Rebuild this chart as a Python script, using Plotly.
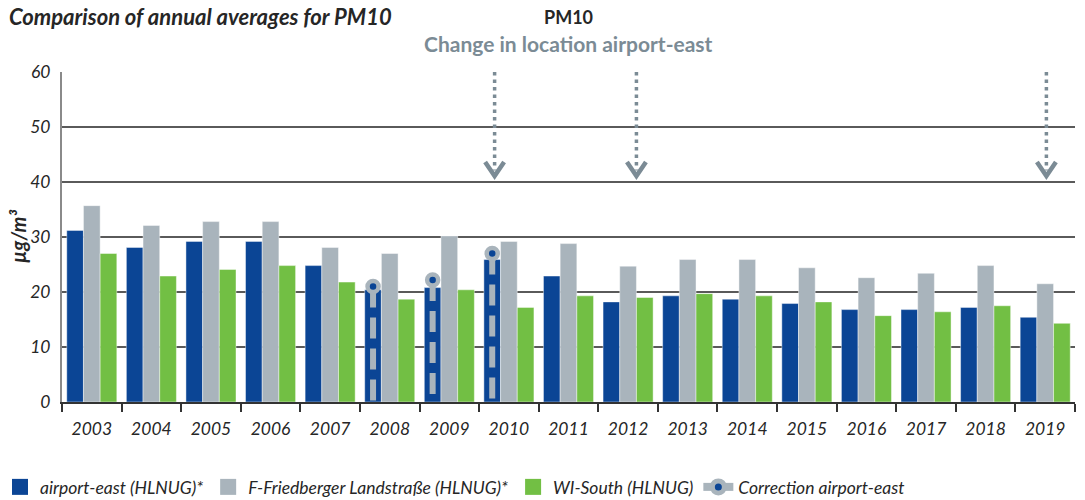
import plotly.graph_objects as go

# ---------------- data ----------------
years = ["2003", "2004", "2005", "2006", "2007", "2008", "2009", "2010", "2011",
         "2012", "2013", "2014", "2015", "2016", "2017", "2018", "2019"]
airport_east = [31.2, 28.1, 29.2, 29.2, 24.8, 20.4, 20.8, 25.9, 22.9,
                18.2, 19.3, 18.7, 17.9, 16.8, 16.8, 17.2, 15.4]
friedberger = [35.7, 32.1, 32.8, 32.8, 28.1, 27.0, 30.2, 29.2, 28.8,
               24.7, 25.9, 25.9, 24.4, 22.6, 23.4, 24.8, 21.5]
wi_south = [27.0, 22.9, 24.1, 24.8, 21.8, 18.7, 20.4, 17.2, 19.3,
            19.0, 19.7, 19.3, 18.2, 15.7, 16.4, 17.5, 14.3]
correction_years = ["2008", "2009", "2010"]
correction_values = [21.0, 22.2, 27.0]
arrow_years = ["2010", "2012", "2019"]
arrow_offsets = [-0.24, 0.14, 0.02]
y_ticks = [0, 10, 20, 30, 40, 50, 60]

series_names = ["airport-east (HLNUG)*", "F-Friedberger Landstraße (HLNUG)*", "WI-South (HLNUG)"]
correction_name = "Correction airport-east"
title_text = "Comparison of annual averages for PM10"
chart_title = "PM10"
chart_subtitle = "Change in location airport-east"
y_label = "µg/m³"

# ---------------- style ----------------
BLUE = "#0b4595"
GRAY = "#a9b4bc"
GREEN = "#72bf44"
SLATE = "#7b8b95"
TEXT = "#262626"
FONT = "Lato"
BARGAP = 0.16

W, H = 1085, 500
ML, MR, MT, MB = 62, 10, 72, 98
PW = W - ML - MR
PH = H - MT - MB
Y_MAX = 60

xpos = list(range(len(years)))
bar_w = (1 - BARGAP) / 3

fig = go.Figure()

for name, vals, col in zip(series_names, [airport_east, friedberger, wi_south], [BLUE, GRAY, GREEN]):
    fig.add_trace(go.Bar(
        x=xpos, y=vals, name=name, marker_color=col,
        marker_line=dict(width=0.8, color="rgba(255,255,255,0.55)"),
        showlegend=False, hoverinfo="y"))

# correction markings inside airport-east bars
for cy, cv in zip(correction_years, correction_values):
    xc = years.index(cy) - bar_w
    fig.add_trace(go.Scatter(
        x=[xc, xc], y=[cv, 0], mode="lines",
        line=dict(color=GRAY, width=6, dash="21px,10px"),
        showlegend=False, hoverinfo="skip"))
fig.add_trace(go.Scatter(
    x=[years.index(cy) - bar_w for cy in correction_years], y=correction_values,
    mode="markers",
    marker=dict(size=11, color=BLUE, line=dict(width=4.5, color=GRAY)),
    showlegend=False, hoverinfo="y"))

# arrows (dotted shaft + chevron head)
px_per_unit = PH / Y_MAX
px_per_cat = PW / len(years)
tip_val = (H - MB - 176) / px_per_unit
head_h = 14 / px_per_unit
head_dx = 9.5 / px_per_cat
for ay, off in zip(arrow_years, arrow_offsets):
    xa = years.index(ay) + off
    fig.add_shape(type="line", xref="x", yref="y", x0=xa, x1=xa, y0=Y_MAX,
                  y1=tip_val + 1.0, line=dict(color=SLATE, width=3.5, dash="3.5px,4px"))
    fig.add_trace(go.Scatter(
        x=[xa - head_dx, xa, xa + head_dx], y=[tip_val + head_h, tip_val, tip_val + head_h],
        mode="lines", line=dict(color=SLATE, width=4.5),
        showlegend=False, hoverinfo="skip"))

# legend entries
for name, col in zip(series_names, [BLUE, GRAY, GREEN]):
    fig.add_trace(go.Scatter(
        x=[None], y=[None], mode="markers", name=name,
        marker=dict(symbol="square", size=16, color=col)))
fig.add_trace(go.Scatter(
    x=[None], y=[None], mode="lines+markers", name=correction_name,
    line=dict(color=GRAY, width=8),
    marker=dict(size=12, color=BLUE, line=dict(width=5, color=GRAY))))

def px_x(p):
    return (p - ML) / PW

def px_y(p):
    return 1 + (MT - p) / PH

annotations = [
    dict(text=f"<b><i>{title_text}</i></b>", x=px_x(7), y=px_y(1), xref="paper", yref="paper",
         xanchor="left", yanchor="top", showarrow=False,
         font=dict(family=FONT, size=22, color=TEXT)),
    dict(text=f"<b>{chart_title}</b>", x=0.5, y=px_y(17), xref="paper", yref="paper",
         xanchor="center", yanchor="middle", showarrow=False,
         font=dict(family=FONT, size=18, color=TEXT)),
    dict(text=f"<b>{chart_subtitle}</b>", x=0.5, y=px_y(43), xref="paper", yref="paper",
         xanchor="center", yanchor="middle", showarrow=False,
         font=dict(family=FONT, size=21, color=SLATE)),
    dict(text=f"<b><i>{y_label}</i></b>", x=px_x(18), y=0.5, xref="paper", yref="paper",
         xanchor="center", yanchor="middle", showarrow=False, textangle=-90,
         font=dict(family=FONT, size=20, color=TEXT)),
]

fig.update_layout(
    width=W, height=H,
    margin=dict(l=ML, r=MR, t=MT, b=MB, pad=0, autoexpand=False),
    paper_bgcolor="white", plot_bgcolor="white",
    barmode="group", bargap=BARGAP, bargroupgap=0,
    font=dict(family=FONT, size=16, color=TEXT),
    annotations=annotations,
    legend=dict(orientation="h", x=px_x(0), xanchor="left", y=px_y(487), yanchor="middle",
                font=dict(family=FONT, size=17.5, color=TEXT, style="italic"),
                itemwidth=30, tracegroupgap=0, bgcolor="rgba(0,0,0,0)"),
    xaxis=dict(range=[-0.5, len(years) - 0.5], tickmode="array", tickvals=xpos, ticktext=years,
               ticks="outside", ticklen=10, tickcolor="rgba(0,0,0,0)",
               tickfont=dict(family=FONT, size=17.5, color=TEXT, style="italic"),
               showline=True, linecolor="#333333", linewidth=1.5, showgrid=False, zeroline=False,
               minor=dict(tickmode="array", tickvals=[i - 0.5 for i in range(len(years) + 1)],
                          ticks="outside", ticklen=8, tickcolor="#333333", tickwidth=1.5,
                          showgrid=False),
               fixedrange=True),
    yaxis=dict(range=[0, Y_MAX], tickmode="array", tickvals=y_ticks,
               ticks="outside", ticklen=6, tickcolor="rgba(0,0,0,0)",
               tickfont=dict(family=FONT, size=17.5, color=TEXT, style="italic"),
               showgrid=True, gridcolor="#5a5a5a", gridwidth=1.5,
               showline=True, linecolor="#8a8a8a", linewidth=2, zeroline=False,
               fixedrange=True),
    showlegend=True,
)

fig.write_html("out.html", config={"displayModeBar": False},
               post_script="document.body.style.margin='0';document.body.style.overflow='hidden';")
